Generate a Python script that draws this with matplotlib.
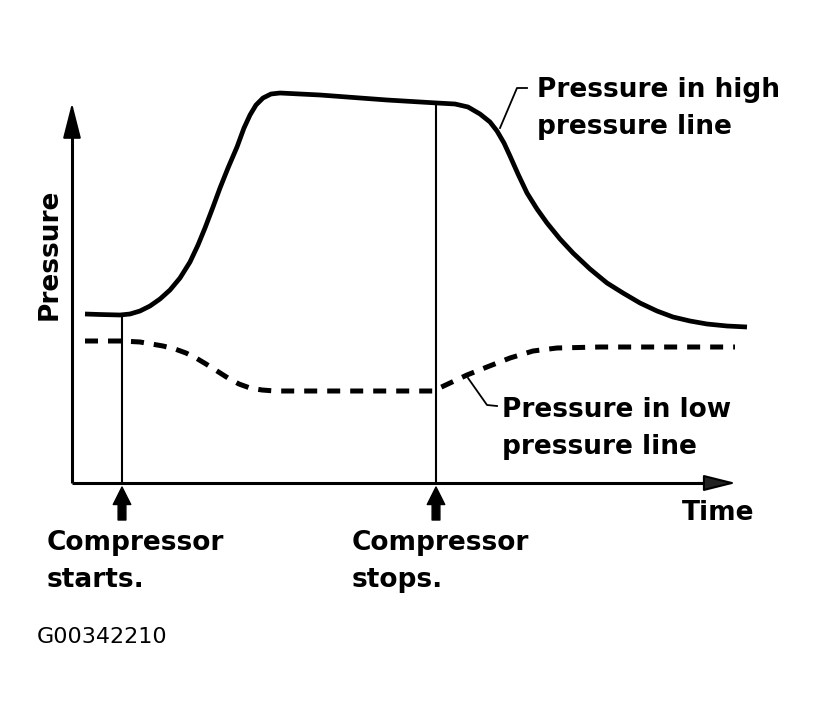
import matplotlib
matplotlib.use("Agg")
import matplotlib.pyplot as plt

# arbitrary units (time from the pressure axis, pressure from the time axis)
high_t = [13, 28, 48, 58, 68, 78, 88, 98, 108, 118, 126, 133, 141, 148, 156, 165,
          172, 178, 184, 191, 199, 208, 228, 248, 315, 365, 383, 396, 408, 418,
          425, 432, 438, 446, 455, 465, 475, 488, 501, 518, 535, 551, 568, 585,
          601, 618, 635, 655, 675]
high_p = [169, 168.5, 168, 169, 172, 177, 184, 193, 205, 221, 238, 255, 276, 295, 315, 336,
          355, 368, 378, 385, 389, 390, 389, 388, 383, 380, 379, 376, 369, 361,
          352, 340, 327, 309, 290, 274, 260, 244, 230, 214, 200, 190, 180, 172,
          166, 162, 159, 157, 156]

low_t = [13, 50, 68, 91, 103, 114, 124, 134, 145, 156, 167, 178, 190, 203, 258,
         361, 378, 395, 415, 438, 461, 485, 528, 663]
low_p = [142, 142, 141, 137, 134, 130, 125, 119, 112, 105, 99, 95, 93, 92, 92,
         92, 100, 108, 116, 125, 132, 135, 136, 136]

t_start = 50
t_stop = 364
p_at_start = 168
p_at_stop = 380

fig = plt.figure(figsize=(8.24, 7.18), dpi=100)
ax = fig.add_axes([0, 0, 1, 1])
ax.set_xlim(-72, 752)
ax.set_ylim(-235, 483)
ax.axis("off")

# axes with arrows
ax.plot([0, 0], [0, 355], color="black", lw=2.2, solid_capstyle="butt")
ax.annotate("", xy=(0, 380), xytext=(0, 345),
            arrowprops=dict(arrowstyle="-|>,head_length=1.1,head_width=0.28",
                            mutation_scale=20, fc="black", ec="black", lw=1.5,
                            shrinkA=0, shrinkB=0))
ax.plot([0, 640], [0, 0], color="black", lw=2.2, solid_capstyle="butt")
ax.annotate("", xy=(664, 0), xytext=(625, 0),
            arrowprops=dict(arrowstyle="-|>,head_length=1.0,head_width=0.25",
                            mutation_scale=20, fc="#222222", ec="black", lw=1.5,
                            shrinkA=0, shrinkB=0))

# curves
ax.plot(high_t, high_p, color="black", lw=3.4, solid_joinstyle="round",
        solid_capstyle="butt")
ax.plot(low_t, low_p, color="black", lw=3.6, dashes=(2.6, 2.0))

# event lines
ax.plot([t_start, t_start], [0, p_at_start], color="black", lw=1.5)
ax.plot([t_stop, t_stop], [0, p_at_stop], color="black", lw=1.5)

# event arrows below the time axis
for t in [t_start, t_stop]:
    ax.annotate("", xy=(t, -4), xytext=(t, -37),
                arrowprops=dict(arrowstyle="simple,head_length=0.9,head_width=0.9,tail_width=0.4",
                                mutation_scale=14, fc="black", ec="black",
                                shrinkA=0, shrinkB=0))

# leaders
ax.plot([428, 445, 455], [355, 395, 395], color="black", lw=1.3)
ax.plot([396, 415, 425], [105, 78, 77], color="black", lw=1.3)

fs = 19
ls = 1.55
ax.text(465, 406, "Pressure in high\npressure line", fontsize=fs,
        fontweight="bold", va="top", ha="left", linespacing=ls)
ax.text(430, 86, "Pressure in low\npressure line", fontsize=fs,
        fontweight="bold", va="top", ha="left", linespacing=ls)
ax.text(610, -17, "Time", fontsize=fs, fontweight="bold", va="top", ha="left")
ax.text(-25, -47, "Compressor\nstarts.", fontsize=fs, fontweight="bold",
        va="top", ha="left", linespacing=ls)
ax.text(280, -47, "Compressor\nstops.", fontsize=fs, fontweight="bold",
        va="top", ha="left", linespacing=ls)
ax.text(-22, 229, "Pressure", fontsize=fs, fontweight="bold", rotation=90,
        va="center", ha="center")
ax.text(-35, -144, "G00342210", fontsize=16, va="top", ha="left")

fig.savefig("out.png", dpi=100, facecolor="white")
